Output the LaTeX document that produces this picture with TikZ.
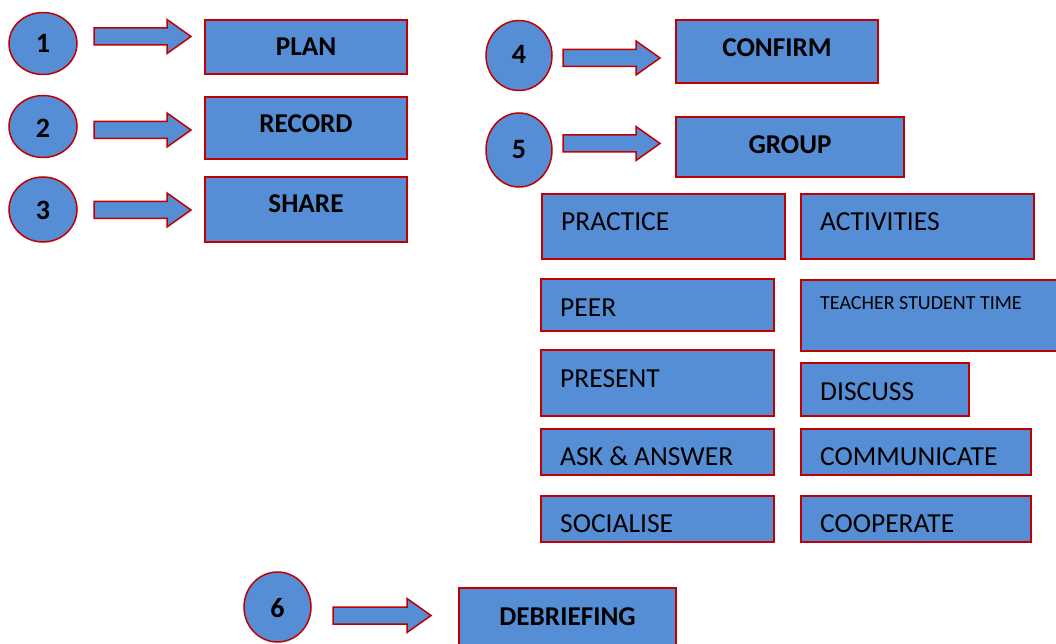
\documentclass[tikz,border=0pt]{standalone}
\usepackage{fontspec}
\setmainfont{Carlito}
\usetikzlibrary{shapes.geometric,calc}
\definecolor{boxblue}{HTML}{558ED5}
\definecolor{edgered}{HTML}{C00000}
\tikzset{
  box/.style={draw=edgered, fill=boxblue, line width=1.5pt, rectangle, inner sep=0pt},
  numcirc/.style={draw=edgered, fill=boxblue, line width=1.5pt, ellipse, inner sep=0pt},
  blockarrow/.style={draw=edgered, fill=boxblue, line width=1.5pt, line join=miter},
  boldlbl/.style={font=\fontsize{27.2}{30}\selectfont\bfseries, inner sep=0pt, anchor=base},
  numlbl/.style={font=\fontsize{28}{30}\selectfont\bfseries, inner sep=0pt, anchor=base},
  lbl/.style={font=\fontsize{27.5}{30}\selectfont, inner sep=0pt, anchor=base west},
  smalllbl/.style={font=\fontsize{20}{24}\selectfont, inner sep=0pt, anchor=base west},
}
\newcommand\barrow[2]{\draw[blockarrow] ($(#1)+(0,-8.5)$) -- ($(#2)+(-24,-8.5)$) -- ($(#2)+(-24,-17)$) -- (#2) -- ($(#2)+(-24,17)$) -- ($(#2)+(-24,8.5)$) -- ($(#1)+(0,8.5)$) -- cycle;}
\begin{document}
\begin{tikzpicture}[x=1pt,y=-1pt]
\useasboundingbox (0,0) rectangle (1056,644);
% circles
\node[numcirc, minimum width=68pt, minimum height=62pt] (c1) at (43,43.5) {};
\node[numcirc, minimum width=68pt, minimum height=62pt] (c2) at (43,126.5) {};
\node[numcirc, minimum width=68pt, minimum height=65pt] (c3) at (43,209.5) {};
\node[numcirc, minimum width=66pt, minimum height=70pt] (c4) at (519,55.5) {};
\node[numcirc, minimum width=66pt, minimum height=74pt] (c5) at (519,150) {};
\node[numcirc, minimum width=67pt, minimum height=70pt] (c6) at (277.5,607) {};
\node[numlbl] (n1) at (43,52.5) {1};
\node[numlbl] (n2) at (43,138) {2};
\node[numlbl] (n3) at (43,220) {3};
\node[numlbl] (n4) at (519,64) {4};
\node[numlbl] (n5) at (519,159) {5};
\node[numlbl] (n6) at (277.5,617) {6};
% arrows
\coordinate (a1s) at (94,36.5);  \coordinate (a1e) at (191,36.5);
\coordinate (a2s) at (94,130);   \coordinate (a2e) at (191,130);
\coordinate (a3s) at (94,210);   \coordinate (a3e) at (191,210);
\coordinate (a4s) at (563,58);   \coordinate (a4e) at (660,58);
\coordinate (a5s) at (563,143.5);\coordinate (a5e) at (660,143.5);
\coordinate (a6s) at (333,615.5);\coordinate (a6e) at (431,615.5);
\barrow{a1s}{a1e}
\barrow{a2s}{a2e}
\barrow{a3s}{a3e}
\barrow{a4s}{a4e}
\barrow{a5s}{a5e}
\barrow{a6s}{a6e}
% boxes
\node[box, minimum width=202pt, minimum height=54pt] (plan) at (306,47) {};
\node[box, minimum width=202pt, minimum height=62pt] (record) at (306,128) {};
\node[box, minimum width=202pt, minimum height=65pt] (share) at (306,209.5) {};
\node[box, minimum width=202pt, minimum height=63pt] (confirm) at (777,51.5) {};
\node[box, minimum width=228pt, minimum height=60pt] (group) at (790,147) {};
\node[box, minimum width=243pt, minimum height=65pt] (practice) at (663.5,226.5) {};
\node[box, minimum width=233pt, minimum height=65pt] (activities) at (917.5,226.5) {};
\node[box, minimum width=233pt, minimum height=52pt] (peer) at (657.5,305) {};
\node[box, minimum width=261pt, minimum height=71pt] (tst) at (931.5,315.5) {};
\node[box, minimum width=233pt, minimum height=66pt] (present) at (657.5,383) {};
\node[box, minimum width=168pt, minimum height=53pt] (discuss) at (885,389.5) {};
\node[box, minimum width=233pt, minimum height=46pt] (ask) at (657.5,452) {};
\node[box, minimum width=230pt, minimum height=46pt] (communicate) at (916,452) {};
\node[box, minimum width=233pt, minimum height=46pt] (socialise) at (657.5,519) {};
\node[box, minimum width=230pt, minimum height=46pt] (cooperate) at (916,519) {};
\node[box, minimum width=217pt, minimum height=64pt] (debrief) at (567.5,620) {};
% labels
\node[boldlbl] (t-plan) at (306,56) {PLAN};
\node[boldlbl] (t-record) at (306,133) {RECORD};
\node[boldlbl] (t-share) at (306,213) {SHARE};
\node[boldlbl] (t-confirm) at (777,57) {CONFIRM};
\node[boldlbl] (t-group) at (790,154) {GROUP};
\node[boldlbl] (t-debrief) at (567.5,625) {DEBRIEFING};
\node[lbl] (t-practice) at (561,230) {PRACTICE};
\node[lbl] (t-activities) at (820,230) {ACTIVITIES};
\node[lbl] (t-peer) at (560,316) {PEER};
\node[smalllbl] (t-tst) at (820,309) {TEACHER STUDENT TIME};
\node[lbl] (t-present) at (560,387) {PRESENT};
\node[lbl] (t-discuss) at (820,400) {DISCUSS};
\node[lbl] (t-ask) at (560,465) {ASK \& ANSWER};
\node[lbl] (t-communicate) at (820,465) {COMMUNICATE};
\node[lbl] (t-socialise) at (560,532) {SOCIALISE};
\node[lbl] (t-cooperate) at (820,532) {COOPERATE};
\end{tikzpicture}
\end{document}
